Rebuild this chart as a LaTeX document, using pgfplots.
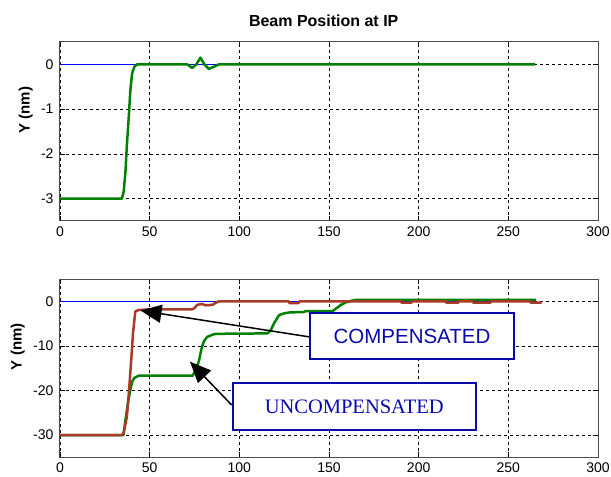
\documentclass[border=0pt]{standalone}
\usepackage{pgfplots}
\pgfplotsset{compat=1.18}
\usepackage{fontspec}
\setmainfont{Liberation Sans}
\newfontfamily\boxserif{Liberation Serif}
\usetikzlibrary{arrows.meta}
\definecolor{mgreen}{RGB}{0,128,0}
\definecolor{mred}{RGB}{168,58,38}
\definecolor{mblue}{RGB}{0,0,255}
\definecolor{boxblue}{RGB}{10,10,170}
\pgfplotsset{mystyle/.style={
  scale only axis, width=538pt, xmin=0, xmax=300, xtick={0,50,...,300},
  grid=major, major grid style={black, line width=0.7pt, dash pattern=on 3pt off 3pt},
  axis line style={black!70, line width=1pt},
  tick style={black, line width=0.7pt}, major tick length=5pt,
  tick align=inside, tick pos=both,
  ticklabel style={font=\fontsize{14}{16}\selectfont},
  /pgf/number format/assume math mode=true,
  xticklabel style={yshift=-2pt}, yticklabel style={xshift=-3pt},
  clip=true}}
\begin{document}
\begin{tikzpicture}[x=1pt,y=1pt]
\useasboundingbox (0,0) rectangle (611,477);
% top
\begin{axis}[mystyle, at={(60pt,256pt)}, anchor=south west, height=179pt,
  ymin=-3.5, ymax=0.5, ytick={-3,-2,-1,0}]
\addplot[mblue, line width=1pt] coordinates {(0,0) (265,0)};
\addplot[mgreen, line width=2.5pt, line join=round] coordinates {
(0,-3) (34.5,-3) (35.5,-2.85) (36.5,-2.4) (37.3,-1.8) (38.3,-1.2) (39.2,-0.6)
(40.2,-0.2) (41.5,-0.05) (43,0) (71,0) (73.7,-0.08) (76,0) (78.3,0.15) (80.5,0)
(83,-0.1) (86,-0.05) (88.6,0) (265,0)};
\end{axis}
% bottom
\begin{axis}[mystyle, at={(60pt,19.7pt)}, anchor=south west, height=178.3pt,
  ymin=-35, ymax=5, ytick={-30,-20,-10,0}]
\addplot[mblue, line width=1pt] coordinates {(0,0) (265,0)};
\addplot[mgreen, line width=2.5pt, line join=round] coordinates {
(0,-30) (35.4,-30) (36.4,-27) (37.8,-23) (39.2,-19.9) (40.3,-18) (41.4,-17.2)
(43.8,-16.7) (74,-16.7) (75.5,-15.5) (77.4,-13.5) (79,-10.5) (80.2,-9) (82,-8)
(85,-7.5) (87,-7.3) (115.7,-7.2) (117.5,-6.5) (119.4,-4.9) (122.2,-3.1)
(125,-2.7) (128,-2.5) (136,-2.4) (137,-2.2) (152,-2.2) (154,-1.6) (156.7,-0.8)
(159,-0.3) (162.3,0.1) (165,0.3) (265.5,0.3)};
\addplot[mred, line width=2.5pt, line join=round] coordinates {
(0,-30) (34.5,-30) (35.5,-29.5) (37.3,-25.9) (38.3,-21) (39.2,-16.1) (40,-11.5)
(40.7,-7.2) (41.4,-4.5) (42,-2.3) (43.8,-1.95) (50,-1.8) (73.7,-1.8) (75,-1.5)
(76.5,-0.8) (79.3,-0.6) (81,-0.9) (85,-0.8) (87,-0.3) (88.6,0) (127.5,0)
(128,-0.4) (133,-0.4) (133.5,0) (190,0) (190.5,-0.3) (196,-0.3) (196.5,0)
(215,0) (215.5,-0.3) (222,-0.3) (222.5,0) (230,0) (230.5,-0.3) (240,-0.3)
(240.5,0) (262,0) (262.5,-0.3) (268.5,-0.3)};
\end{axis}
% title and labels
\node[font=\bfseries\fontsize{16}{18}\selectfont, anchor=base] at (323.7,450.3) {Beam Position at IP};
\node[font=\bfseries\fontsize{15}{17}\selectfont, rotate=90] at (25.7,367) {Y (nm)};
\node[font=\bfseries\fontsize{15}{17}\selectfont, rotate=90] at (17.7,130.3) {Y (nm)};
% annotations
\draw[black, line width=1.5pt, -{Triangle[length=21pt,width=18pt]}] (310,140) -- (140.5,166.5);
\draw[black, line width=1.5pt, -{Triangle[length=21pt,width=18pt]}] (231.7,72) -- (190,115.3);
\node[draw=boxblue, fill=white, line width=1.8pt, minimum width=204pt, minimum height=46.6pt,
  inner sep=0pt, text=boxblue, font=\fontsize{20.5}{22}\selectfont] at (412,141) {COMPENSATED};
\node[draw=boxblue, fill=white, line width=1.8pt, minimum width=243pt, minimum height=46.7pt,
  inner sep=0pt, text=boxblue, font=\boxserif\fontsize{20.5}{22}\selectfont] at (354.2,70.35) {UNCOMPENSATED};
\end{tikzpicture}
\end{document}
